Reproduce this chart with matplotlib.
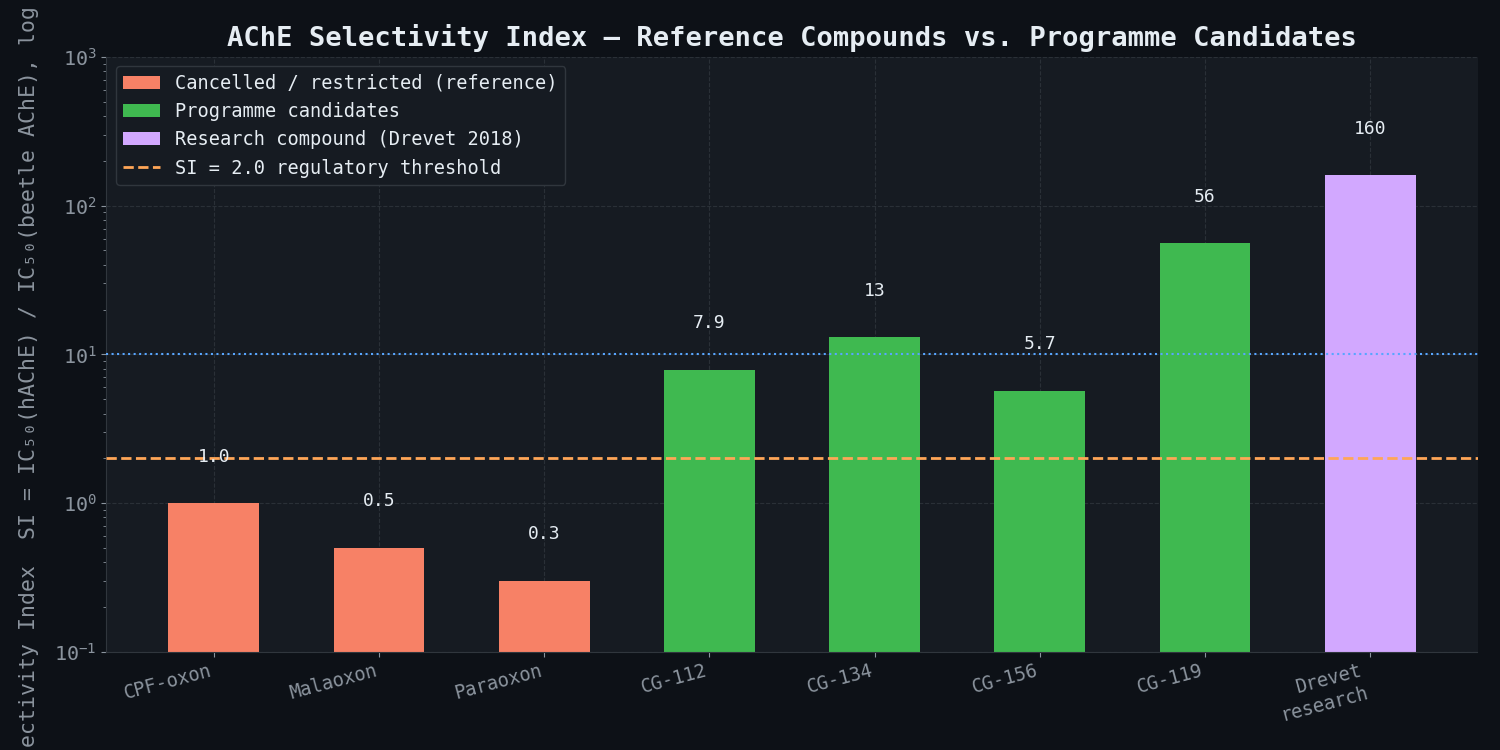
import matplotlib
matplotlib.use("Agg")
import matplotlib.pyplot as plt
from matplotlib.patches import Patch
from matplotlib.lines import Line2D

categories = ["CPF-oxon", "Malaoxon", "Paraoxon", "CG-112", "CG-134", "CG-156", "CG-119", "Drevet\nresearch"]
si_values = [1.0, 0.5, 0.3, 7.9, 13, 5.7, 56, 160]
value_labels = ["1.0", "0.5", "0.3", "7.9", "13", "5.7", "56", "160"]
groups = ["ref", "ref", "ref", "cand", "cand", "cand", "cand", "research"]
threshold = 2.0
reference_line = 10.0

BG = "#0d1117"
AX = "#161b22"
TXT = "#e6edf3"
MUTED = "#8b949e"
GRID = "#30363d"
colors = {"ref": "#f78166", "cand": "#3fb950", "research": "#d2a8ff"}

plt.rcParams["font.family"] = ["DejaVu Sans Mono", "DejaVu Sans"]

fig = plt.figure(figsize=(15, 7.5), dpi=100, facecolor=BG)
ax = fig.add_axes([0.071, 0.131, 0.914, 0.793])
ax.set_facecolor(AX)

x = list(range(len(categories)))
ax.bar(x, si_values, width=0.55, color=[colors[g] for g in groups], zorder=2)
ax.set_yscale("log")
ax.set_ylim(0.1, 1000)
ax.set_xlim(-0.65, len(categories) - 0.35)

ax.axhline(threshold, color="#ffa657", linestyle="--", linewidth=2, zorder=3)
ax.axhline(reference_line, color="#58a6ff", linestyle=":", linewidth=1.5, zorder=3)

for xi, v, lab in zip(x, si_values, value_labels):
    ax.text(xi, v * 2.05, lab, ha="center", va="center", color=TXT, fontsize=13, zorder=4)

ax.grid(True, which="major", color=GRID, linestyle="--", linewidth=0.8, alpha=0.8, zorder=0)
ax.set_axisbelow(True)

ax.set_xticks(x)
ax.set_xticklabels(categories, rotation=15, ha="right", color=MUTED, fontsize=13.5)
ax.tick_params(axis="y", colors=MUTED, labelsize=14.5)
ax.tick_params(axis="x", colors=MUTED)
ax.tick_params(which="minor", colors=MUTED)
for s in ax.spines.values():
    s.set_color(GRID)
ax.spines["top"].set_visible(False)
ax.spines["right"].set_visible(False)

ax.set_ylabel("Selectivity Index  SI = IC\u2085\u2080(hAChE) / IC\u2085\u2080(beetle AChE), log",
              color=MUTED, fontsize=15.5)
ax.yaxis.set_label_coords(-0.049, 0.43)
ax.set_title("AChE Selectivity Index \u2014 Reference Compounds vs. Programme Candidates",
             color=TXT, fontsize=19.5, fontweight="bold", pad=8)

handles = [
    Patch(facecolor=colors["ref"], label="Cancelled / restricted (reference)"),
    Patch(facecolor=colors["cand"], label="Programme candidates"),
    Patch(facecolor=colors["research"], label="Research compound (Drevet 2018)"),
    Line2D([0], [0], color="#ffa657", linestyle="--", linewidth=2, label="SI = 2.0 regulatory threshold"),
]
leg = ax.legend(handles=handles, loc="upper left", fontsize=13.4, facecolor=AX,
                edgecolor=GRID, labelcolor=TXT, framealpha=1)

fig.savefig("out.png", dpi=100, facecolor=BG)
